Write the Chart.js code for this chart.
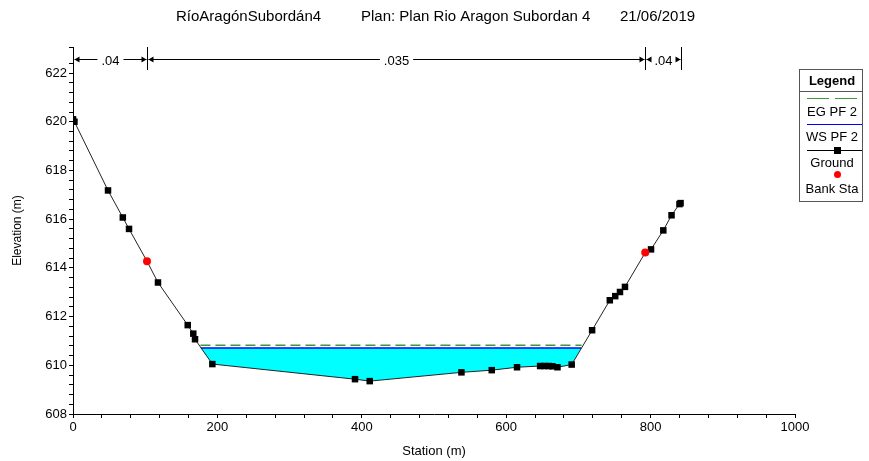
<!DOCTYPE html>
<html>
<head>
<meta charset="utf-8">
<title>RíoAragónSubordán4 - cross section</title>
<script src="https://cdn.jsdelivr.net/npm/chart.js@4.4.1/dist/chart.umd.min.js"></script>
<style>
  html, body { margin: 0; padding: 0; background: #fff; }
  #wrap { width: 869px; height: 461px; }
</style>
</head>
<body>
<div id="wrap"><canvas id="xsChart" width="869" height="461"></canvas></div>
<script>
// ground points (station m, elevation m)
const station = [0, 2, 48.5, 69, 77.6, 102.5, 117.7, 158.9, 166.6, 169, 193,
  390.6, 411, 538, 580, 615, 647, 653, 659, 664, 671, 690.7,
  719, 743.5, 751, 757.6, 764.5, 792.6, 800.6, 817.6, 829, 840, 841.5];
const elevation = [620.1, 620.0, 617.18, 616.07, 615.6, 614.27, 613.4, 611.65, 611.3, 611.07, 610.05,
  609.43, 609.35, 609.71, 609.8, 609.92, 609.97, 609.97, 609.97, 609.96, 609.92, 610.03,
  611.44, 612.67, 612.84, 613.01, 613.22, 614.63, 614.76, 615.54, 616.16, 616.62, 616.66];

// bank stations
const bankStation = [102.5, 792.6];
const bankElevation = [614.27, 614.63];

// manning n values and their limits
const nBreaks = [0, 102.5, 792.6, 841.5];
const nValues = ['.04', '.035', '.04'];

// profile PF 2
const wsElev = 610.71;
const egElev = 610.82;
const wsEdges = [177, 704];
const egEdges = [176.5, 704.5];

// tick labels
const xLabels = [0, 200, 400, 600, 800, 1000];
const yLabels = [608, 610, 612, 614, 616, 618, 620, 622];

const FONT = 'Liberation Sans, Arial, sans-serif';

// water polygon: ground between the water edges, filled up to WS
var water = [{x: wsEdges[0], y: wsElev}];
station.forEach(function (s, i) {
  if (s > wsEdges[0] && s < wsEdges[1]) water.push({x: s, y: elevation[i]});
});
water.push({x: wsEdges[1], y: wsElev});

function pts(xs, ys) {
  return xs.map(function (x, i) { return {x: x, y: ys[i]}; });
}

function isLabel(list, v) {
  return list.some(function (l) { return Math.abs(l - v) < 1e-6; });
}

// title, n-value bar and legend box
const decor = {
  id: 'decor',
  afterDraw: function (chart) {
    var c = chart.ctx;
    var xs = chart.scales.x;
    var area = chart.chartArea;
    c.save();

    // title
    c.fillStyle = '#000';
    c.font = '15px ' + FONT;
    c.textBaseline = 'middle';
    c.textAlign = 'left';
    c.fillText('RíoAragónSubordán4', 176, 17);
    c.fillText('Plan: Plan Rio Aragon Subordan 4', 361, 17);
    c.fillText('21/06/2019', 620, 17);

    // n values
    var top = area.top, yl = top + 12;
    c.strokeStyle = '#000';
    c.lineWidth = 1;
    c.font = '13px ' + FONT;
    c.textAlign = 'center';
    nBreaks.forEach(function (b) {
      var px = Math.round(xs.getPixelForValue(b)) + 0.5;
      c.beginPath(); c.moveTo(px, top); c.lineTo(px, top + 23); c.stroke();
    });
    for (var i = 0; i < nValues.length; i++) {
      var x0 = Math.round(xs.getPixelForValue(nBreaks[i])) + 0.5;
      var x1 = Math.round(xs.getPixelForValue(nBreaks[i + 1])) + 0.5;
      var y = Math.round(yl) + 0.5;
      var mid = (x0 + x1) / 2;
      var tw = c.measureText(nValues[i]).width / 2 + 4;
      c.beginPath();
      c.moveTo(x0 + 1, y); c.lineTo(mid - tw, y);
      c.moveTo(mid + tw, y); c.lineTo(x1 - 1, y);
      c.stroke();
      // arrow heads
      c.beginPath();
      c.moveTo(x0 + 1, y); c.lineTo(x0 + 6, y - 3); c.lineTo(x0 + 6, y + 3); c.closePath();
      c.moveTo(x1 - 1, y); c.lineTo(x1 - 6, y - 3); c.lineTo(x1 - 6, y + 3); c.closePath();
      c.fillStyle = '#000';
      c.fill();
      c.fillText(nValues[i], mid, y + 1.5);
    }

    // legend box
    var lx = 799.5, ly = 69.5, lw = 63, lh = 132;
    var cx = lx + lw / 2 + 1;
    c.strokeStyle = '#555';
    c.strokeRect(lx, ly, lw, lh);
    c.beginPath(); c.moveTo(lx, 91.5); c.lineTo(lx + lw, 91.5); c.stroke();
    c.fillStyle = '#000';
    c.font = 'bold 13px ' + FONT;
    c.fillText('Legend', cx, 81);
    c.font = '13px ' + FONT;

    c.strokeStyle = '#3a9a3a';
    c.setLineDash([22, 6]);
    c.beginPath(); c.moveTo(807, 98.5); c.lineTo(858, 98.5); c.stroke();
    c.setLineDash([]);
    c.fillText('EG PF 2', cx, 112);

    c.strokeStyle = '#0000ff';
    c.beginPath(); c.moveTo(807, 124.5); c.lineTo(862, 124.5); c.stroke();
    c.fillText('WS PF 2', cx, 137);

    c.strokeStyle = '#000';
    c.beginPath(); c.moveTo(807, 150.5); c.lineTo(862, 150.5); c.stroke();
    c.fillRect(834, 147, 7, 7);
    c.fillText('Ground', cx, 163);

    c.fillStyle = '#ff0000';
    c.beginPath();
    c.arc(837.5, 174.5, 3.5, 0, Math.PI * 2);
    c.fill();
    c.fillStyle = '#000';
    c.fillText('Bank Sta', cx, 189);

    c.restore();
  }
};

var ctx = document.getElementById('xsChart');
var xsChart = new Chart(ctx, {
  type: 'line',
  data: {
    datasets: [{
      label: 'Bank Sta',
      data: pts(bankStation, bankElevation),
      showLine: false,
      pointStyle: 'circle',
      pointRadius: 4,
      pointBackgroundColor: '#ff0000',
      pointBorderColor: '#ff0000',
      pointBorderWidth: 0
    }, {
      label: 'Ground',
      data: pts(station, elevation),
      borderColor: '#222',
      borderWidth: 1,
      pointStyle: 'rect',
      // bank points are shown by the red marker only
      pointRadius: function (c) {
        return bankStation.indexOf(station[c.dataIndex]) >= 0 ? 0 : 4.6;
      },
      pointBackgroundColor: '#000',
      pointBorderColor: '#000',
      pointBorderWidth: 0,
      tension: 0
    }, {
      label: 'WS PF 2',
      data: pts(wsEdges, [wsElev, wsElev]),
      borderColor: '#0000ff',
      borderWidth: 1.5,
      pointRadius: 0
    }, {
      label: 'EG PF 2',
      data: pts(egEdges, [egElev, egElev]),
      borderColor: '#3a9a3a',
      borderWidth: 1.5,
      borderDash: [10, 5],
      pointRadius: 0
    }, {
      label: 'water',
      data: water,
      borderWidth: 0,
      borderColor: 'rgba(0,0,0,0)',
      backgroundColor: '#00ffff',
      fill: {value: wsElev},
      pointRadius: 0
    }]
  },
  options: {
    responsive: false,
    devicePixelRatio: 1,
    animation: false,
    layout: { padding: { top: 47, right: 74, left: 0, bottom: 0 } },
    plugins: {
      legend: { display: false },
      tooltip: { enabled: false }
    },
    scales: {
      x: {
        type: 'linear',
        min: 0, max: 1000,
        afterFit: function (s) { s.height = 47; },
        grid: { drawOnChartArea: false, tickLength: 4, color: '#000' },
        border: { color: '#000' },
        ticks: {
          stepSize: 40, autoSkip: false, maxRotation: 0, padding: 2,
          color: '#000', font: { family: FONT, size: 13 },
          callback: function (v) { return isLabel(xLabels, v) ? String(v) : ''; }
        },
        title: { display: true, text: 'Station (m)', color: '#000', font: { family: FONT, size: 13 }, padding: { top: 0, bottom: 2 } }
      },
      y: {
        type: 'linear',
        min: 608, max: 623.07,
        afterFit: function (s) { s.width = 73; },
        grid: { drawOnChartArea: false, tickLength: 4, color: '#000' },
        border: { color: '#000' },
        ticks: {
          stepSize: 0.4, autoSkip: false, padding: 2,
          color: '#000', font: { family: FONT, size: 13 },
          callback: function (v) { return isLabel(yLabels, v) ? String(Math.round(v)) : ''; }
        },
        title: { display: true, text: 'Elevation (m)', color: '#000', font: { family: FONT, size: 12 }, padding: { top: 10, bottom: 0 } }
      }
    }
  },
  plugins: [decor]
});
</script>
</body>
</html>
